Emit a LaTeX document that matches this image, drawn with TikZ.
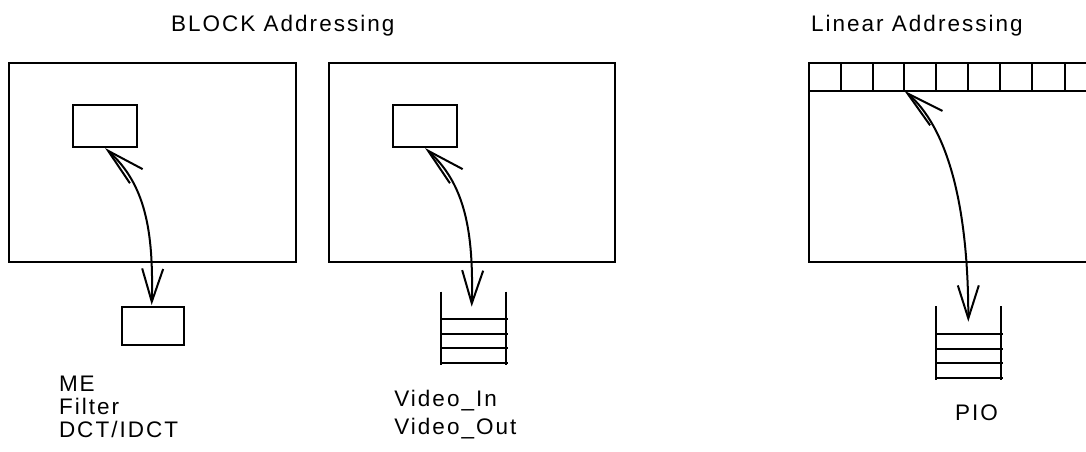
\documentclass[tikz,border=0pt]{standalone}
\usepackage{fontspec}
\setmainfont{Liberation Sans}[LetterSpace=9]
\usetikzlibrary{arrows.meta}
\begin{document}
\begin{tikzpicture}[x=1pt,y=-1pt,
  line width=2pt,
  lbl/.style={anchor=base west,inner sep=0pt,font=\fontsize{22.5}{22.5}\selectfont},
  conn/.style={{Straight Barb[length=38pt,width=19pt,line width=2pt]}-{Straight Barb[length=33pt,width=21pt,line width=2pt]},line width=2pt}
]
\useasboundingbox (0,0) rectangle (1086,451);
% titles
\node[lbl] (t1) at (170,31.7) {BLOCK Addressing};
\node[lbl] (t2) at (810,31.7) {Linear Addressing};
% big frames
\draw (9.3,62.7) rectangle (295.7,261.7);
\draw (329,62.7) rectangle (615,261.7);
\draw (1086,62.7) -- (809.3,62.7) -- (809.3,261.7) -- (1086,261.7);
\draw (809.3,90.7) -- (1086,90.7);
\foreach \x in {840.7,872.7,904.3,936,968.3,1000,1032.3,1065}
  \draw (\x,62.7) -- (\x,90.7);
% small blocks
\node[draw,inner sep=0pt,minimum width=63.4pt,minimum height=42pt] (b1) at (105,126) {};
\node[draw,inner sep=0pt,minimum width=63.4pt,minimum height=42pt] (b2) at (425,126) {};
\node[draw,inner sep=0pt,minimum width=62.3pt,minimum height=38pt] (m1) at (153,326) {};
% stacks
\coordinate (s2) at (441,291.7);
\draw (s2) -- ++(0,73.3);
\draw ([xshift=64.7pt]s2) -- ++(0,73.3);
\foreach \y in {27.6,42.3,56.6,71.6}
  \draw ([yshift=-\y pt]s2) -- ++(67,0);
\coordinate (s3) at (936,306);
\draw (s3) -- ++(0,74);
\draw ([xshift=64.7pt]s3) -- ++(0,74);
\foreach \y in {28,43,57.3,72.3}
  \draw ([yshift=-\y pt]s3) -- ++(67,0);
\coordinate (c3) at (904.3,90.7);
% connectors
\coordinate (e1) at (151.7,305);
\coordinate (e2) at (471.7,306.7);
\coordinate (e3) at (968.3,321.7);
\draw[conn] (b1.south) .. controls +(40,36) and +(2,-75) .. (e1);
\draw[conn] (b2.south) .. controls +(40,36) and +(2,-75) .. (e2);
\draw[conn] (c3) .. controls +(42,36) and +(0,-120) .. (e3);
% labels
\node[lbl] (l1) at (58,391.7) {ME};
\node[lbl] (l2) at (58,414.5) {Filter};
\node[lbl] (l3) at (58,437.3) {DCT/IDCT};
\node[lbl] (l4) at (393.3,406.7) {Video\_In};
\node[lbl] (l5) at (393.3,434) {Video\_Out};
\node[lbl] (l6) at (954,420) {PIO};
\end{tikzpicture}
\end{document}
